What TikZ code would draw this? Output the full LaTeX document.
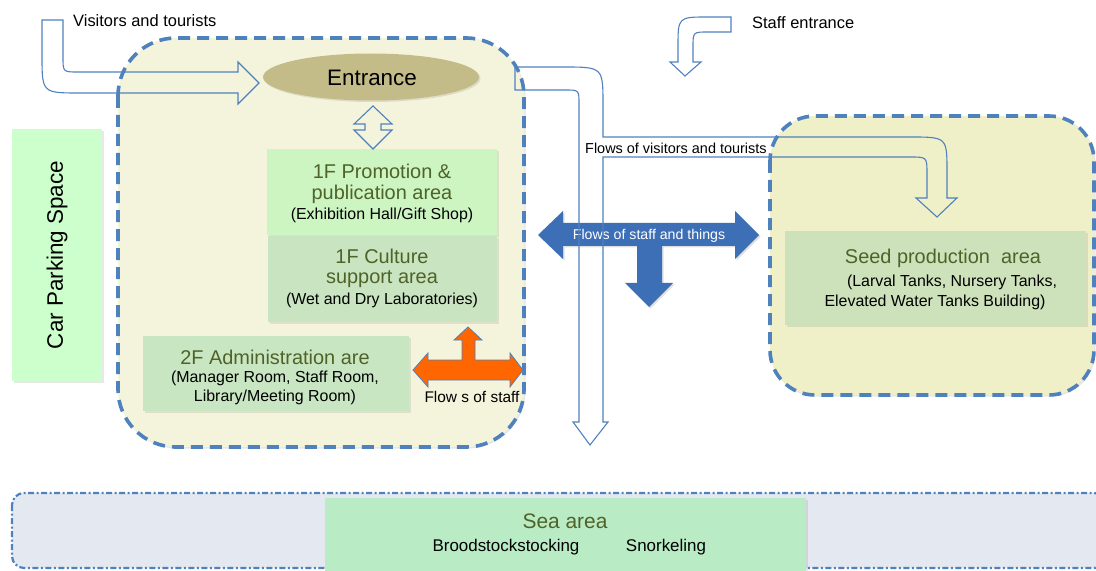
\documentclass[tikz,border=0pt]{standalone}
\usepackage{fontspec}
\setmainfont{Liberation Sans}
\usetikzlibrary{shadows,shapes.geometric}
\definecolor{dashblue}{HTML}{4F81BD}
\definecolor{bldL}{HTML}{F4F4DC}
\definecolor{bldR}{HTML}{EFF0C8}
\definecolor{entfill}{HTML}{C3BC88}
\definecolor{promofill}{HTML}{CCF5C2}
\definecolor{culturefill}{HTML}{C9E4C0}
\definecolor{adminfill}{HTML}{C9E6C3}
\definecolor{seedfill}{HTML}{CDE2BB}
\definecolor{parkfill}{HTML}{CCFFCC}
\definecolor{seaout}{HTML}{E4E8F0}
\definecolor{seain}{HTML}{B9EBC5}
\definecolor{olive}{HTML}{4F6228}
\definecolor{flowblue}{HTML}{3D6FB6}
\definecolor{floworange}{HTML}{FF6600}
\newcommand\fsize[1]{\fontsize{#1}{#1}\selectfont}
\begin{document}
\begin{tikzpicture}[x=1bp,y=-1bp,
  building/.style={draw=dashblue,line width=3.6bp,dash pattern=on 12bp off 7bp,rounded corners=#1,
    drop shadow={shadow xshift=1.5bp,shadow yshift=-1.5bp,opacity=0.2}},
  areabox/.style={draw=none,inner sep=0pt,
    drop shadow={shadow xshift=1.5bp,shadow yshift=-1.5bp,opacity=0.18}},
  outlinearrow/.style={draw=dashblue,line width=1.1bp,line join=miter},
  title/.style={text=olive,font=\fsize{20}},
  sub/.style={text=black,font=\fsize{16}},
  label/.style={text=black,inner sep=1bp}
]
\useasboundingbox (0,0) rectangle (1096,571);

% buildings
\draw[building=58bp,fill=bldL] (118,38) rectangle (524,447);
\draw[building=45bp,fill=bldR] (770,116) rectangle (1094,395);

% sea area
\draw[draw=dashblue,line width=2.2bp,dash pattern=on 6bp off 2.5bp on 2bp off 2.5bp,rounded corners=12bp,fill=seaout]
  (12,493) rectangle (1106,568);
\node[areabox,fill=seain,minimum width=481bp,minimum height=73bp,anchor=north west,drop shadow={opacity=0}] (sea) at (325,498) {};
\node[text=olive,font=\fsize{21}] (seatitle) at (565,521) {Sea area};
\node[label,font=\fsize{17}] (brood) at (506,547) {Broodstockstocking};
\node[label,font=\fsize{17}] (snork) at (666,547) {Snorkeling};

% car parking
\node[areabox,fill=parkfill,minimum width=90bp,minimum height=252bp,anchor=north west,drop shadow={opacity=0}] (park) at (12,129) {};
\node[rotate=90,font=\fsize{22.5}] (parktext) at (57,255) {Car Parking Space};

% entrance
\node[ellipse,fill=entfill,minimum width=216bp,minimum height=47bp,inner sep=0pt,
  drop shadow={shadow xshift=1.5bp,shadow yshift=-1.5bp,opacity=0.2}] (entrance) at (371,77) {};
\node[font=\fsize{22.5}] (enttext) at (372,78) {Entrance};

% 1F promotion
\node[areabox,fill=promofill,minimum width=230bp,minimum height=86bp,anchor=north west] (promo) at (267,149) {};
\node[title] (promo1) at (382,171) {1F Promotion \&};
\node[title] (promo2) at (382,194) {publication area};
\node[sub] (promo3) at (382,215) {(Exhibition Hall/Gift Shop)};

% 1F culture
\node[areabox,fill=culturefill,minimum width=229bp,minimum height=86bp,anchor=north west] (culture) at (268,236) {};
\node[title] (cult1) at (382,256) {1F Culture};
\node[title] (cult2) at (382,279) {support area};
\node[sub] (cult3) at (382,300) {(Wet and Dry Laboratories)};

% 2F administration
\node[areabox,fill=adminfill,minimum width=266bp,minimum height=75bp,anchor=north west] (admin) at (143,336) {};
\node[title] (adm1) at (275,357) {2F Administration are};
\node[sub] (adm2) at (275,378) {(Manager Room, Staff Room,};
\node[sub] (adm3) at (275,397) {Library/Meeting Room)};

% seed production
\node[areabox,fill=seedfill,minimum width=301bp,minimum height=94bp,anchor=north west] (seed) at (785,231) {};
\node[title] (seed1) at (943,258) {Seed production\ \ area};
\node[sub] (seed2) at (952,282) {(Larval Tanks, Nursery Tanks,};
\node[sub] (seed3) at (935,302) {Elevated Water Tanks Building)};

% small double arrow entrance <-> promotion
\draw[outlinearrow,fill=bldL] (373,106) -- (392,124) -- (381,124) -- (381,130) -- (392,130) -- (373,149)
  -- (354,130) -- (365,130) -- (365,124) -- (354,124) -- cycle;

% blue cross arrow (staff and things)
\fill[flowblue,drop shadow={shadow xshift=1.5bp,shadow yshift=-1.5bp,opacity=0.25}]
  (538,235) -- (563,211) -- (563,223) -- (735,223) -- (735,211) -- (759,235) -- (735,259) -- (735,246)
  -- (662,246) -- (662,283) -- (673,283) -- (649,307) -- (625,283) -- (637,283) -- (637,246)
  -- (563,246) -- (563,259) -- cycle;
\node[text=white,font=\fsize{14.2}] (stafftext) at (649,236) {Flows of staff and things};

% orange cross arrow (staff)
\filldraw[fill=floworange,draw=dashblue,line width=0.8bp]
  (413,370) -- (428,353) -- (428,360) -- (462,360) -- (462,340) -- (454,340) -- (468,327) -- (482,340)
  -- (475,340) -- (475,360) -- (510,360) -- (510,353) -- (523,370) -- (510,387) -- (510,380)
  -- (428,380) -- (428,387) -- cycle;
\node[label,font=\fsize{15.5}] (flowstaff) at (472,397) {Flow s of staff};

% visitors arrow
\draw[outlinearrow] (42,20) -- (42,55) .. controls (42,93) .. (80,93) -- (238,93) -- (238,104) -- (259,83)
  -- (238,62) -- (238,72) -- (78,72) .. controls (63,72) .. (63,57) -- (63,20) -- cycle;
\node[label,font=\fsize{16.5},anchor=west] (vistext) at (72,21) {Visitors and tourists};

% staff entrance arrow
\draw[outlinearrow] (731,17) -- (708,17) .. controls (678,17) .. (678,47) -- (678,62) -- (670,62) -- (685,76)
  -- (701,62) -- (693,62) -- (693,47) .. controls (693,32) .. (708,32) -- (731,32) -- cycle;
\node[label,font=\fsize{16.5},anchor=west] (staffent) at (751,23) {Staff entrance};

% flows of visitors and tourists (big arrow)
\draw[outlinearrow] (515,67) -- (563,67) .. controls (603,67) .. (603,105) -- (603,137) -- (910,137)
  .. controls (947,137) .. (947,172) -- (947,198) -- (957,198) -- (937,217) -- (916,198) -- (927,198)
  -- (927,174) .. controls (927,157) .. (910,157) -- (603,157) -- (603,422) -- (608,422) -- (590,445)
  -- (573,422) -- (579,422) -- (579,104) .. controls (579,90) .. (565,90) -- (515,90) -- cycle;
\node[label,font=\fsize{14.5},anchor=west] (vistflow) at (584,148) {Flows of visitors and tourists};

\end{tikzpicture}
\end{document}
